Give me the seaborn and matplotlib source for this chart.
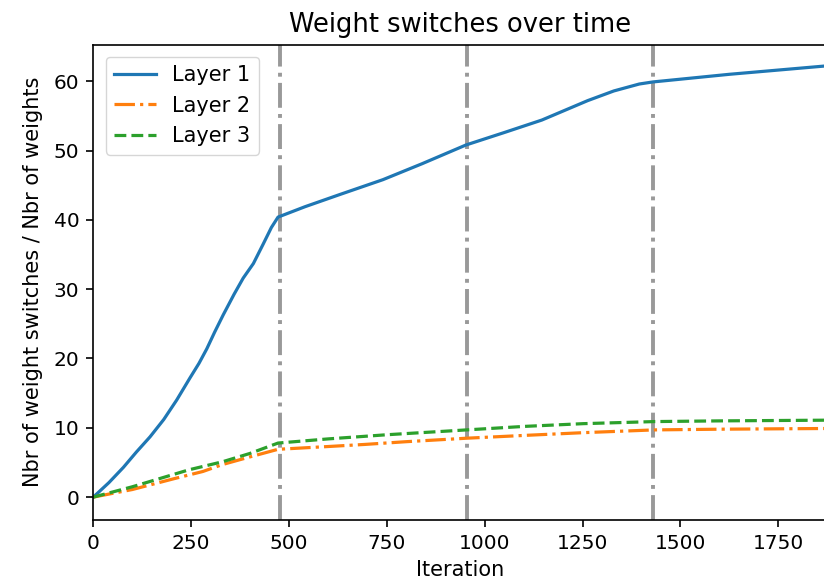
import matplotlib
matplotlib.use("Agg")
import matplotlib.pyplot as plt
import seaborn as sns
import pandas as pd

# ---- data ----
layer1_x = [0, 40, 77, 110, 145, 180, 213, 247, 270, 290, 310, 332, 360, 383, 409, 434, 455, 472,
            541, 632, 740, 840, 952, 1050, 1146, 1263, 1330, 1395, 1430, 1625, 1870]
layer1_y = [0, 2.1, 4.3, 6.5, 8.7, 11.2, 14.0, 17.2, 19.3, 21.4, 23.8, 26.3, 29.3, 31.6, 33.7, 36.5, 38.9, 40.4,
            41.9, 43.7, 45.8, 48.1, 50.8, 52.6, 54.4, 57.2, 58.6, 59.6, 59.9, 61.0, 62.2]

layer2_x = [0, 100, 209, 280, 330, 400, 472, 600, 693, 800, 954, 1100, 1252, 1434, 1600, 1870]
layer2_y = [0, 1.1, 2.7, 3.7, 4.7, 5.8, 6.9, 7.3, 7.6, 8.0, 8.5, 8.9, 9.3, 9.7, 9.8, 9.9]

layer3_x = [0, 100, 245, 330, 400, 472, 600, 750, 954, 1100, 1252, 1434, 1600, 1870]
layer3_y = [0, 1.5, 3.95, 5.1, 6.3, 7.8, 8.4, 9.0, 9.7, 10.2, 10.6, 10.9, 11.0, 11.1]

epoch_ends = [477, 954, 1431]

series_names = ["Layer 1", "Layer 2", "Layer 3"]

title = "Weight switches over time"
xlabel = "Iteration"
ylabel = "Nbr of weight switches / Nbr of weights"

# ---- figure ----
fig = plt.figure(figsize=(8.24, 5.87), dpi=100)
ax = fig.add_axes([93.3 / 824, 67 / 587, (826 - 93.3) / 824, (520 - 44.5) / 587])

lw = 2.3
df1 = pd.DataFrame({"x": layer1_x, "y": layer1_y})
df2 = pd.DataFrame({"x": layer2_x, "y": layer2_y})
df3 = pd.DataFrame({"x": layer3_x, "y": layer3_y})

sns.lineplot(data=df1, x="x", y="y", ax=ax, color="#1f77b4", linestyle="-", lw=lw, label=series_names[0])
sns.lineplot(data=df2, x="x", y="y", ax=ax, color="#ff7f0e", linestyle="-.", lw=lw, label=series_names[1])
sns.lineplot(data=df3, x="x", y="y", ax=ax, color="#2ca02c", linestyle="--", lw=lw, label=series_names[2])

for xe in epoch_ends:
    ax.axvline(xe, color="#999999", linestyle="-.", lw=2.8, zorder=1)

ax.set_xlim(0, 1872)
ax.set_ylim(-3.3, 65.3)
ax.set_xticks([0, 250, 500, 750, 1000, 1250, 1500, 1750])
ax.set_yticks([0, 10, 20, 30, 40, 50, 60])

ax.set_title(title, fontsize=18.5, pad=9)
ax.set_xlabel(xlabel, fontsize=15, labelpad=5)
ax.set_ylabel(ylabel, fontsize=15, labelpad=8)
ax.tick_params(axis="both", labelsize=14.5, length=5, width=1.2, pad=5)
for s in ax.spines.values():
    s.set_linewidth(1.2)

ax.legend(loc="upper left", fontsize=15, handlelength=2.0, borderaxespad=0.6)

fig.savefig("out.png", dpi=100)
